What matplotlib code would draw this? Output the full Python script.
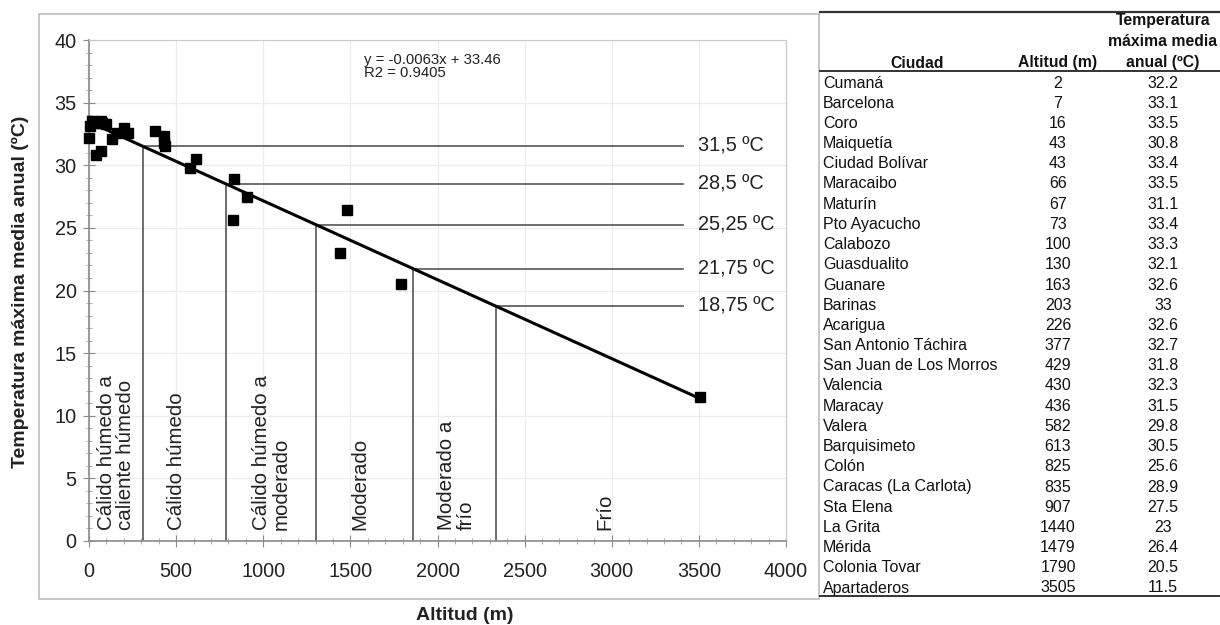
import numpy as np
import matplotlib
matplotlib.use("Agg")
import matplotlib.pyplot as plt
from matplotlib.lines import Line2D
from matplotlib.patches import Rectangle
from matplotlib.ticker import MultipleLocator

plt.rcParams['font.family'] = ['Liberation Sans', 'DejaVu Sans']

# estaciones, altitud (m) y temperatura maxima media anual (ºC)
ciudades = ["Cumaná", "Barcelona", "Coro", "Maiquetía", "Ciudad Bolívar",
            "Maracaibo", "Maturín", "Pto Ayacucho", "Calabozo", "Guasdualito",
            "Guanare", "Barinas", "Acarigua", "San Antonio Táchira",
            "San Juan de Los Morros", "Valencia", "Maracay", "Valera",
            "Barquisimeto", "Colón", "Caracas (La Carlota)", "Sta Elena",
            "La Grita", "Mérida", "Colonia Tovar", "Apartaderos"]
altitudes = [2, 7, 16, 43, 43, 66, 67, 73, 100, 130, 163, 203, 226, 377,
             429, 430, 436, 582, 613, 825, 835, 907, 1440, 1479, 1790, 3505]
temperaturas = [32.2, 33.1, 33.5, 30.8, 33.4, 33.5, 31.1, 33.4, 33.3, 32.1,
                32.6, 33, 32.6, 32.7, 31.8, 32.3, 31.5, 29.8, 30.5, 25.6,
                28.9, 27.5, 23, 26.4, 20.5, 11.5]

# recta de regresion
pendiente = -0.0063
ordenada = 33.46
r2 = 0.9405

# limites entre pisos termicos
umbrales = [31.5, 28.5, 25.25, 21.75, 18.75]
etiquetas_umbral = ["31,5 ºC", "28,5 ºC", "25,25 ºC", "21,75 ºC", "18,75 ºC"]
zonas = ["Cálido húmedo a\ncaliente húmedo", "Cálido húmedo",
         "Cálido húmedo a\nmoderado", "Moderado", "Moderado a\nfrío", "Frío"]
zonas_x = [155, 505, 1044, 1555, 2106, 2961]

W, H = 1220, 625
fig = plt.figure(figsize=(W / 100, H / 100), dpi=100)

# marco exterior del grafico
fig.patches.append(Rectangle((39 / W, 1 - 599 / H), (819 - 39) / W, (599 - 14) / H,
                             transform=fig.transFigure, fill=False,
                             edgecolor='#bdbdbd', lw=1.2))

ax = fig.add_axes([89 / W, 1 - 541 / H, (786 - 89) / W, (541 - 40) / H])
ax.set_xlim(0, 4000)
ax.set_ylim(0, 40)
ax.xaxis.set_major_locator(MultipleLocator(500))
ax.xaxis.set_minor_locator(MultipleLocator(100))
ax.yaxis.set_major_locator(MultipleLocator(5))
ax.yaxis.set_minor_locator(MultipleLocator(1))
ax.grid(True, which='major', color='#ececec', lw=0.9)
ax.set_axisbelow(True)
for s in ['top', 'right']:
    ax.spines[s].set_color('#c8c8c8')
for s in ['left', 'bottom']:
    ax.spines[s].set_color('#8a8a8a')
    ax.spines[s].set_linewidth(1.2)
ax.tick_params(which='major', direction='inout', length=8, color='#8a8a8a',
               labelsize=14.3, labelcolor='#222222')
ax.tick_params(which='minor', direction='inout', length=5, color='#a0a0a0')
ax.tick_params(axis='x', which='major', pad=11)
ax.tick_params(axis='y', which='major', pad=5)

# lineas de los pisos termicos
for t, lab in zip(umbrales, etiquetas_umbral):
    xc = (t - ordenada) / pendiente
    ax.plot([xc, 3410], [t, t], color='#555555', lw=1.2, zorder=2)
    ax.plot([xc, xc], [0, t], color='#555555', lw=1.2, zorder=2)
    ax.text(3495, t, lab, fontsize=14.3, va='center', ha='left', color='#222222')

for zx, z in zip(zonas_x, zonas):
    ax.text(zx, 0.9, z, rotation=90, ha='center', va='bottom',
            multialignment='left', fontsize=14.8, color='#222222',
            linespacing=1.05)

# recta ajustada y datos
xr = np.array([0, max(altitudes)])
ax.plot(xr, pendiente * xr + ordenada, color='black', lw=2.2, zorder=3)
ax.plot(altitudes, temperaturas, 's', color='black', ms=7.5, zorder=4,
        clip_on=False)

ax.text(1578, 38.95, "y = %.4fx + %.2f\nR2 = %.4f" % (pendiente, ordenada, r2),
        fontsize=10.7, va='top', ha='left', linespacing=0.9, color='#222222')

fig.text(465 / W, 1 - 615 / H, "Altitud (m)", fontsize=14, fontweight='bold',
         ha='center', va='center', color='#222222')
fig.text(20 / W, 1 - 292 / H, "Temperatura máxima media anual (ºC)", fontsize=14,
         fontweight='bold', rotation=90, ha='center', va='center', color='#222222')

# tabla de estaciones
def hline(y, lw):
    fig.add_artist(Line2D([820 / W, 1219 / W], [1 - y / H, 1 - y / H],
                          transform=fig.transFigure, color='#333333', lw=lw))

hline(12, 1.6)
hline(71, 1.4)
hline(596, 1.4)

col_ciudad = 823
col_alt = 1058
col_temp = 1163
hdr = dict(fontsize=11.3, fontweight='bold', color='#111111')
fig.text(917 / W, 1 - 63 / H, "Ciudad", ha='center', va='center', **hdr)
fig.text(col_alt / W, 1 - 63 / H, "Altitud (m)", ha='center', va='center', **hdr)
fig.text(col_temp / W, 1 - 20 / H, "Temperatura", ha='center', va='center', **hdr)
fig.text(col_temp / W, 1 - 42 / H, "máxima media", ha='center', va='center', **hdr)
fig.text(col_temp / W, 1 - 63 / H, "anual (ºC)", ha='center', va='center', **hdr)

for i, (c, a, t) in enumerate(zip(ciudades, altitudes, temperaturas)):
    y = 1 - (83 + i * 20.2) / H
    fig.text(col_ciudad / W, y, c, ha='left', va='center', fontsize=11.5, color='#111111')
    fig.text(col_alt / W, y, str(a), ha='center', va='center', fontsize=11.5, color='#111111')
    fig.text(col_temp / W, y, "%g" % t, ha='center', va='center', fontsize=11.5, color='#111111')

fig.savefig("out.png", dpi=100)
